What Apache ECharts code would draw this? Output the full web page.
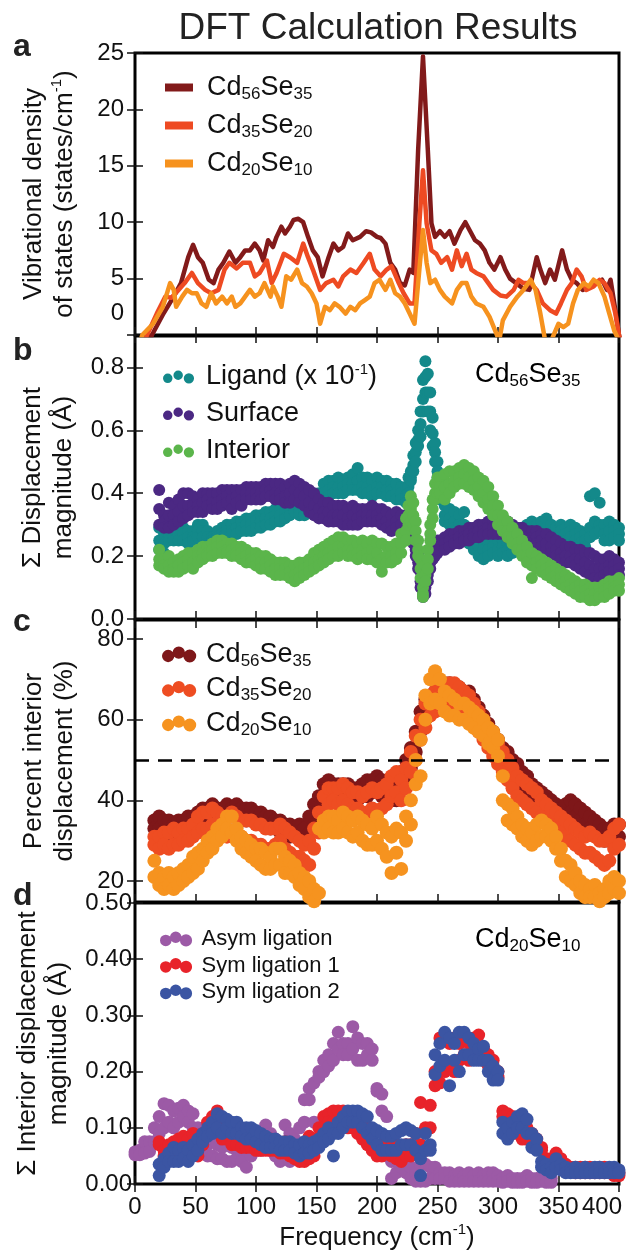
<!DOCTYPE html>
<html>
<head>
<meta charset="utf-8">
<title>DFT Calculation Results</title>
<script src="https://cdn.jsdelivr.net/npm/echarts@6/dist/echarts.min.js"></script>
<style>
    html, body { margin: 0; padding: 0; background: #fff; }
    #main { width: 627px; height: 1253px; }
</style>
</head>
<body>
<div id="main"></div>
<script>
// ---------- panel a : vibrational density of states (lines) ----------
var freq56 = [8,14,23,32,38,44,48,52,56,61,65,69,73,78,83,87,91,95,99,103,106,110,114,117,121,124,128,131,135,139,143,147,151,155,160,164,168,172,176,180,186,191,195,200,203,207,211,215,219,223,227,230,234,238,242,245,248,252,256,260,264,269,273,277,281,285,289,293,297,302,306,310,315,321,326,332,335,339,343,347,353,357,361,365,370,376,382,386,390,393,397,400,403];
var vdos56 = [-1.5,0,1.8,3.4,4.6,6.9,8.0,6.9,6.4,4.9,4.6,5.8,6.4,7.4,6.4,6.9,7.5,7.5,8.1,7.5,6.6,8.4,7.8,8.7,9.6,9.0,9.6,10.2,10.3,10.0,8.7,7.5,6.9,5.2,6.9,8.1,7.5,7.8,9.0,8.4,8.7,9.2,9.1,8.7,8.6,8.1,6.4,5.8,4.6,4.4,5.8,5.5,16.4,24.7,16.4,9.9,8.7,9.2,8.7,9.2,8.1,9.3,10.0,9.2,8.4,8.1,7.5,6.4,5.8,6.9,5.8,5.0,4.6,4.1,4.0,6.9,5.8,4.6,5.8,4.9,7.5,5.8,4.9,4.6,4.0,4.3,4.6,4.9,4.0,4.9,2.2,0,-1.5];

var freq35 = [4,10,18,25,30,36,41,47,52,58,63,69,74,78,84,89,95,99,103,109,113,117,123,128,134,139,143,147,153,158,164,168,172,178,183,189,194,198,203,208,212,218,222,227,231,235,238,241,245,249,253,258,262,266,270,274,278,282,288,292,296,302,307,313,317,321,327,332,337,343,348,352,357,361,365,369,373,379,384,388,393,397,400,403];
var vdos35 = [-1.5,0,1.9,3.4,3.3,4.0,4.6,5.5,4.6,4.0,3.7,4.0,5.8,6.4,5.9,6.4,6.4,5.2,5.5,6.6,4.6,5.5,7.2,6.9,6.4,8.1,6.9,5.8,4.0,4.6,4.9,4.3,5.2,5.8,5.5,6.4,7.2,5.8,5.2,5.8,6.1,4.6,3.7,2.8,2.8,9.9,14.6,9.9,7.5,7.2,6.4,6.9,5.8,7.5,6.1,7.2,5.8,5.5,5.2,4.6,4.0,3.5,3.4,4.0,4.9,4.6,4.6,4.0,2.8,2.2,1.9,2.8,4.0,4.6,5.8,5.2,4.0,4.3,4.9,4.6,3.7,1.9,0,-1.5];

var freq20 = [2,6,15,23,29,32,34,39,43,47,51,55,59,63,67,72,76,80,83,87,91,95,99,103,107,112,114,118,121,125,129,134,138,142,146,150,153,157,161,165,169,174,178,182,186,190,194,198,202,207,211,215,219,223,227,231,235,238,241,244,248,252,256,262,266,270,274,278,282,288,293,298,301,304,310,316,321,327,331,335,339,344,350,354,358,362,366,371,375,379,383,388,392,396,400];
var vdos20 = [-1.5,0,1.0,2.5,4.6,4.0,2.5,3.4,4.0,3.7,3.7,2.8,2.5,3.7,2.8,3.4,2.8,3.4,2.5,2.8,3.4,4.0,3.4,3.7,4.6,3.4,4.3,3.4,2.5,5.2,4.9,5.8,4.6,4.3,3.7,2.8,1.0,2.5,2.2,2.8,2.5,1.9,2.5,2.2,2.8,3.1,3.4,4.6,4.9,4.0,4.9,3.7,3.4,2.8,1.9,1.0,5.8,9.3,6.4,4.6,4.9,4.0,3.4,2.8,4.0,4.6,4.6,3.4,2.8,2.5,1.6,0.3,-0.5,1.3,2.5,3.4,4.0,4.9,4.0,1.9,-0.5,-0.5,1.0,0.7,1.0,2.8,4.0,4.6,4.3,4.9,4.6,3.4,1.9,0.4,-0.5];

// ---------- panel b : displacement magnitude, Cd56Se35 (upper / middle / lower part of each band) ----------
var freqB = [20,24,28,32,36,40,44,48,52,56,60,64,68,72,76,80,84,88,92,96,100,104,108,112,116,120,124,128,132,136,140,144,148,152,156,160,164,168,172,176,180,184,188,192,196,200,204,208,212,216,220,224,226,228,230,232,234,236,238,240,242,244,246,248,250,252,256,260,264,268,272,276,280,284,288,292,296,300,304,308,312,316,320,324,328,332,336,340,344,348,352,356,360,364,368,372,376,380,384,388,392,396,400];
var ligandHi = [.29,.27,.28,.28,.28,.29,.28,.28,.30,.30,.28,.26,.28,.29,.30,.30,.31,.31,.32,.32,.33,.33,.34,.34,.35,.35,.36,.37,.37,.35,.35,.36,.38,.40,.43,.44,.44,.45,.44,.45,.46,.48,.45,.45,.44,.45,.44,.44,.43,.43,.42,.42,
    .45,.47,.52,.56,.60,.66,.76,.82,.78,.72,.64,.56,.50,.45,
    .36,.35,.34,.33,.34,.29,.27,.26,.25,.25,.26,.25,.25,.24,.26,.28,.29,.30,.31,.30,.31,.32,.30,.29,.30,.29,.30,.29,.28,.27,.39,.40,.37,.30,.31,.30,.29];
var ligandMid = [.25,.24,.26,.26,.27,.27,.26,.26,.28,.28,.26,.25,.27,.27,.28,.28,.29,.29,.30,.30,.31,.31,.32,.32,.33,.33,.34,.35,.35,.34,.34,.35,.36,.38,.40,.41,.42,.42,.42,.43,.43,.44,.42,.42,.41,.42,.42,.41,.41,.40,.40,.39,
    .42,.45,.49,.53,.57,.62,.70,.77,.72,.66,.59,.53,.47,.41,
    .33,.32,.31,.30,.30,.26,.24,.23,.22,.22,.23,.22,.23,.22,.23,.26,.27,.28,.28,.28,.28,.29,.27,.26,.28,.27,.28,.27,.26,.25,.29,.31,.30,.27,.28,.28,.27];
var ligandLo = [.22,.21,.25,.25,.25,.25,.24,.25,.26,.26,.24,.24,.26,.26,.27,.27,.27,.28,.28,.28,.29,.29,.30,.30,.31,.31,.32,.33,.34,.33,.33,.34,.35,.36,.38,.39,.40,.40,.40,.41,.41,.41,.40,.40,.39,.40,.40,.39,.39,.38,.38,.37,
    .40,.44,.47,.50,.55,.58,.66,.72,.66,.60,.55,.50,.45,.38,
    .31,.30,.29,.28,.27,.24,.22,.20,.19,.20,.21,.20,.21,.20,.21,.24,.25,.26,.26,.27,.26,.27,.25,.24,.26,.25,.26,.25,.24,.23,.26,.27,.28,.25,.25,.26,.25];
var surfaceHi = [.41,.33,.37,.36,.38,.40,.40,.39,.38,.40,.40,.40,.40,.41,.41,.41,.41,.41,.42,.42,.42,.42,.43,.43,.43,.43,.42,.43,.44,.43,.42,.41,.40,.38,.37,.37,.36,.36,.36,.35,.36,.35,.35,.35,.36,.35,.35,.34,.33,.34,.33,.33,
    .32,.31,.29,.25,.21,.15,.10,.13,.17,.21,.23,.24,.25,.25,
    .26,.27,.27,.28,.28,.29,.29,.30,.30,.31,.31,.31,.31,.31,.30,.29,.29,.28,.28,.28,.27,.27,.26,.25,.24,.23,.23,.22,.22,.21,.21,.20,.19,.19,.20,.19,.18];
var surfaceMid = [.35,.31,.33,.33,.34,.36,.36,.36,.36,.37,.38,.37,.37,.38,.39,.38,.39,.38,.40,.40,.40,.40,.41,.41,.40,.40,.39,.40,.41,.40,.39,.37,.36,.35,.34,.34,.33,.33,.33,.32,.33,.32,.33,.33,.33,.33,.32,.31,.30,.31,.30,.30,
    .29,.28,.26,.22,.18,.12,.08,.10,.14,.18,.21,.22,.23,.23,
    .24,.25,.25,.26,.26,.27,.27,.28,.28,.29,.29,.29,.29,.28,.28,.27,.27,.26,.26,.26,.25,.24,.23,.22,.21,.20,.20,.19,.19,.18,.17,.16,.16,.16,.17,.17,.16];
var surfaceLo = [.30,.29,.29,.30,.31,.32,.33,.34,.34,.34,.36,.35,.35,.36,.37,.35,.37,.36,.38,.38,.38,.38,.39,.39,.38,.38,.37,.37,.38,.37,.36,.34,.33,.32,.32,.31,.31,.31,.30,.30,.30,.30,.31,.31,.31,.31,.30,.29,.28,.29,.28,.28,
    .27,.26,.24,.20,.16,.10,.07,.08,.12,.16,.19,.20,.21,.22,
    .22,.23,.24,.24,.25,.25,.26,.26,.27,.27,.27,.27,.27,.26,.26,.26,.25,.24,.24,.24,.23,.22,.21,.20,.19,.18,.18,.17,.16,.15,.14,.13,.13,.14,.15,.15,.14];
var interiorHi = [.22,.19,.20,.18,.19,.20,.21,.21,.22,.23,.23,.24,.25,.25,.24,.24,.23,.23,.22,.21,.21,.20,.20,.19,.18,.18,.18,.17,.17,.18,.18,.19,.21,.22,.23,.24,.25,.26,.26,.25,.25,.24,.25,.24,.25,.24,.24,.23,.23,.24,.27,.32,
    .36,.39,.37,.31,.25,.19,.10,.17,.22,.30,.38,.43,.45,.45,
    .46,.47,.47,.48,.49,.48,.47,.45,.44,.42,.39,.36,.33,.31,.29,.27,.25,.23,.21,.20,.19,.18,.17,.16,.15,.14,.13,.12,.11,.11,.10,.10,.10,.11,.12,.12,.13];
var interiorMid = [.19,.17,.17,.16,.17,.18,.19,.18,.20,.21,.21,.22,.23,.23,.22,.22,.21,.21,.20,.19,.19,.18,.18,.17,.16,.16,.16,.15,.14,.15,.16,.17,.18,.19,.20,.21,.22,.23,.23,.22,.22,.21,.22,.21,.22,.21,.19,.20,.20,.21,.24,.28,
    .33,.35,.33,.28,.22,.16,.08,.14,.19,.27,.35,.40,.42,.42,
    .42,.43,.44,.45,.46,.45,.44,.42,.40,.38,.36,.33,.30,.28,.26,.24,.22,.20,.17,.18,.17,.16,.15,.14,.13,.12,.11,.10,.09,.09,.08,.08,.08,.09,.10,.10,.11];
var interiorLo = [.17,.16,.15,.15,.15,.16,.17,.16,.18,.19,.20,.20,.21,.21,.21,.20,.20,.19,.18,.18,.17,.16,.16,.15,.14,.14,.14,.13,.12,.13,.14,.15,.16,.17,.18,.19,.20,.20,.21,.20,.20,.19,.20,.19,.19,.18,.15,.18,.18,.19,.21,.25,
    .30,.31,.30,.25,.20,.13,.07,.12,.16,.25,.32,.38,.40,.40,
    .38,.40,.42,.43,.43,.42,.41,.39,.37,.35,.33,.30,.28,.26,.24,.22,.20,.18,.13,.16,.15,.14,.13,.12,.11,.10,.09,.08,.07,.07,.06,.06,.07,.07,.08,.09,.09];

// ---------- panel c : percent interior displacement ----------
var freqC = [16,20,24,28,32,36,40,44,48,52,56,60,64,68,72,76,80,84,88,92,96,100,104,108,112,116,120,124,128,132,136,140,144,148,152,156,160,164,168,172,176,180,184,188,192,196,200,204,208,212,216,220,224,228,232,236,240,244,248,252,256,260,264,268,272,276,280,284,288,292,296,300,304,308,312,316,320,324,328,332,336,340,344,348,352,356,360,364,368,372,376,380,384,388,392,396,400];
var pct56Hi = [35,36,35,35,34,35,35,36,36,37,38,38,39,38,38,39,38,39,38,38,38,37,37,36,36,35,35,34,34,33,34,33,36,39,41,44,45,44,44,44,44,43,43,44,45,45,46,45,44,43,44,47,50,53,57,62,65,66,67,68,69,69,68,68,67,67,65,63,61,59,57,55,53,52,50,49,47,46,44,43,42,41,40,39,38,39,40,39,38,37,36,35,34,33,33,34,34];
var pct56Lo = [33,33,32,32,31,32,32,33,33,34,35,35,36,35,35,36,36,36,35,35,35,35,34,34,33,33,32,32,31,31,31,30,32,34,37,40,41,41,41,40,41,40,40,41,41,42,42,41,41,40,40,43,45,48,52,57,60,62,63,64,65,65,65,64,64,63,61,60,58,56,54,52,50,49,47,46,44,43,41,40,39,38,37,36,36,36,37,36,35,34,33,32,31,30,30,31,31];
var pct35Hi = [31,31,32,32,33,32,33,33,34,36,37,37,38,37,36,36,37,36,35,35,35,34,34,33,33,33,34,33,32,31,30,29,30,33,37,41,43,43,43,44,43,42,42,41,42,43,42,43,44,46,47,45,48,52,56,60,64,66,67,68,68,69,69,68,67,66,64,62,60,58,56,54,52,50,48,46,45,44,43,42,40,39,38,37,36,35,34,33,32,31,32,31,30,30,31,33,34];
var pct35Lo = [29,28,29,28,29,29,30,30,31,32,33,33,34,33,32,31,32,31,31,30,30,29,29,28,28,29,30,28,27,26,26,25,24,28,32,37,39,40,39,40,39,38,38,37,37,38,37,38,39,41,42,40,43,47,50,55,58,61,62,63,63,64,64,64,62,61,59,57,55,53,51,49,47,45,43,41,40,39,38,37,36,35,34,33,32,31,30,29,28,27,27,26,25,24,25,28,29];
var pct20Hi = [25,22,21,22,21,22,23,24,26,27,28,30,31,33,34,36,36,33,31,30,29,28,28,27,26,28,28,26,25,24,22,21,20,18,33,35,36,36,35,37,36,35,36,35,34,33,36,34,32,31,33,32,36,40,50,55,66,70,72,70,67,66,65,64,64,63,62,61,60,58,57,55,46,39,38,36,34,33,32,34,35,34,33,31,28,25,24,22,20,19,18,19,17,18,20,21,20];
var pct20Lo = [21,19,18,19,18,19,20,21,22,23,25,27,28,30,31,33,32,30,28,27,26,25,24,23,23,24,24,22,22,21,19,18,16,15,17,32,33,32,32,33,32,31,32,30,29,29,30,28,26,22,27,23,30,34,44,46,60,64,65,64,62,61,61,60,60,59,58,57,56,54,53,51,40,35,34,33,31,30,29,30,31,31,30,28,25,21,20,19,17,16,16,16,15,16,17,18,17];
var halfLine = 50;

// ---------- panel d : interior displacement, Cd20Se10 ----------
var freqD = [0,4,8,12,16,20,24,28,32,36,40,44,48,52,56,60,64,68,72,76,80,84,88,92,96,100,104,108,112,116,120,124,128,132,136,140,144,148,152,156,160,164,168,172,176,180,184,188,192,196,200,204,208,212,216,220,224,228,232,236,240,244,248,252,256,260,264,268,272,276,280,284,288,292,296,300,304,308,312,316,320,324,328,332,336,340,344,348,352,356,360,364,368,372,376,380,384,388,392,396,400];
var asymHi = [.057,.06,.075,.075,.10,.12,.143,.14,.13,.135,.14,.13,.125,.10,.08,.07,.075,.07,.065,.07,.065,.06,.055,.06,.07,.08,.09,.105,.09,.08,.07,.105,.09,.08,.10,.15,.17,.18,.20,.22,.23,.25,.27,.25,.25,.28,.26,.25,.25,.24,.17,.16,.12,.04,.05,.05,.04,.03,.02,.035,.035,.03,.03,.02,.02,.02,.015,.02,.015,.02,.015,.02,.015,.02,.02,.015,.01,.015,.01,.01,.01,.015,.01,.01,.012,.01,.01,
    null,null,null,null,null,null,null,null,null,null,null,null,null,null];
var asymLo = [.052,.052,.055,.058,.075,.09,.10,.11,.10,.11,.12,.11,.10,.09,.06,.05,.05,.045,.045,.04,.04,.045,.04,.03,.05,.06,.06,.07,.06,.05,.04,.05,.04,.045,.06,.11,.15,.11,.19,.20,.21,.22,.24,.23,.23,.24,.22,.22,.23,.22,.165,.13,.05,.01,.02,.03,.02,.01,.005,.005,.005,.01,.01,.01,.01,.005,.005,.005,.005,.005,.005,.005,.005,.005,.005,.005,.003,.005,.003,.003,.003,.005,.003,.003,.005,.003,.003,
    null,null,null,null,null,null,null,null,null,null,null,null,null,null];
var sym1Hi = [null,null,null,null,null,
    .075,.06,.07,.075,.08,.085,.08,.09,.06,.09,.11,.12,.13,.11,.10,.09,.09,.085,.08,.08,.08,.075,.075,.08,.075,.07,.075,.065,.06,.055,.06,.085,.08,.10,.12,.125,.13,.13,.13,.12,.12,.11,.10,.10,.09,.06,.07,.08,.08,.07,.06,.07,.07,.09,.145,.10,.14,.20,.26,.26,.25,.26,.25,.26,.25,.26,.265,.24,.23,.22,.20,.13,.125,.12,.11,.10,.10,.09,.08,.065,.045,.045,.055,.045,.035,.03,.03,.03,.03,.03,.025,.03,.03,.025,.02,.02];
var sym1Lo = [null,null,null,null,null,
    .07,.05,.05,.05,.06,.065,.06,.06,.05,.07,.09,.10,.10,.08,.08,.07,.07,.065,.065,.065,.06,.06,.06,.06,.06,.055,.055,.05,.045,.04,.04,.045,.05,.08,.10,.11,.11,.10,.11,.10,.10,.09,.08,.07,.06,.05,.05,.06,.05,.045,.04,.05,.05,.06,.07,.06,.10,.175,.18,.20,.21,.20,.22,.23,.22,.23,.23,.22,.21,.20,.19,.12,.10,.09,.09,.08,.08,.075,.07,.06,.04,.04,.045,.03,.03,.025,.02,.02,.02,.02,.02,.02,.02,.02,.015,.015];
var sym2Hi = [null,null,null,null,null,
    .035,.045,.055,.065,.06,.065,.06,.07,.08,.09,.10,.11,.125,.12,.115,.11,.11,.10,.10,.10,.095,.09,.085,.08,.08,.075,.075,.075,.07,.07,.075,.07,.075,.08,.09,.10,.09,.11,.12,.13,.13,.13,.125,.12,.10,.095,.09,.085,.085,.09,.095,.10,.095,.09,.045,.09,.07,.23,.25,.27,.26,.25,.27,.27,.26,.25,.24,.245,.22,.21,.20,.11,.10,.11,.12,.125,.115,.09,.08,.04,.035,.03,.045,.035,.03,.025,.03,.025,.03,.025,.03,.03,.025,.03,.03,.025];
var sym2Lo = [null,null,null,null,null,
    .015,.03,.04,.04,.04,.045,.04,.05,.06,.075,.085,.09,.10,.09,.10,.09,.09,.085,.08,.08,.075,.07,.065,.065,.065,.06,.06,.06,.055,.05,.055,.055,.06,.065,.075,.08,.05,.09,.10,.11,.11,.11,.10,.09,.08,.07,.06,.06,.06,.06,.07,.07,.07,.06,.015,.06,.06,.195,.21,.22,.175,.22,.20,.23,.23,.22,.22,.22,.20,.185,.185,.09,.08,.09,.10,.10,.09,.065,.06,.03,.025,.02,.03,.025,.02,.02,.02,.02,.02,.02,.02,.02,.02,.02,.02,.02];

// ---------- tick labels ----------
var freqTicks = [0, 50, 100, 150, 200, 250, 300, 350, 400];
var ticksA = [0, 5, 10, 15, 20, 25];
var ticksB = [0, 0.2, 0.4, 0.6, 0.8];
var ticksC = [20, 40, 60, 80];
var ticksD = [0, 0.1, 0.2, 0.3, 0.4, 0.5];

var FONT = 'Liberation Sans';
var INK = '#111';

// legend / annotation labels (rich text for sub- and superscripts)
var labelText = {
    vdos56: '{g|}{n|Cd}{s|56}{n|Se}{s|35}',
    vdos35: '{g|}{n|Cd}{s|35}{n|Se}{s|20}',
    vdos20: '{g|}{n|Cd}{s|20}{n|Se}{s|10}',
    ligand: '{g|}{n|Ligand (x 10}{sup|-1}{n|)}',
    surface: '{g|}{n|Surface}',
    interior: '{g|}{n|Interior}',
    pct56: '{g|}{n|Cd}{s|56}{n|Se}{s|35}',
    pct35: '{g|}{n|Cd}{s|35}{n|Se}{s|20}',
    pct20: '{g|}{n|Cd}{s|20}{n|Se}{s|10}',
    asym: '{g|}{m|Asym ligation}',
    sym1: '{g|}{m|Sym ligation 1}',
    sym2: '{g|}{m|Sym ligation 2}'
};

function richSet(gap) {
    return {
        g: {width: gap},
        n: {fontSize: 27, lineHeight: 30, fontFamily: FONT, color: INK},
        m: {fontSize: 22, lineHeight: 24, fontFamily: FONT, color: INK},
        s: {fontSize: 17, lineHeight: 18, verticalAlign: 'bottom', fontFamily: FONT, color: INK},
        sup: {fontSize: 15, lineHeight: 16, verticalAlign: 'top', fontFamily: FONT, color: INK}
    };
}

var nameRich = {
    n: {fontSize: 26, lineHeight: 31, fontFamily: FONT, color: INK},
    sup: {fontSize: 15, lineHeight: 16, verticalAlign: 'top', fontFamily: FONT, color: INK}
};

// three dots like the matplotlib scatter legend
var dotsSmall = 'path://M0.5,9a4.6,4.6 0 1,0 9.2,0a4.6,4.6 0 1,0 -9.2,0ZM10.6,6a4.6,4.6 0 1,0 9.2,0a4.6,4.6 0 1,0 -9.2,0ZM20.6,9a5,5 0 1,0 10,0a5,5 0 1,0 -10,0Z';
var dotsBig = 'path://M0,9.5a5.5,5.5 0 1,0 11,0a5.5,5.5 0 1,0 -11,0ZM9.5,6.5a5.5,5.5 0 1,0 11,0a5.5,5.5 0 1,0 -11,0ZM19,9.5a5.8,5.8 0 1,0 11.6,0a5.8,5.8 0 1,0 -11.6,0Z';

function linePts(xs, ys) {
    return xs.map(function (x, i) { return [x, ys[i]]; });
}

// every row (upper, middle, lower) becomes one dot per frequency
function cloudPts(xs, rows) {
    var out = [];
    for (var i = 0; i < xs.length; i++) {
        rows.forEach(function (r) {
            if (r[i] != null) out.push([xs[i], r[i]]);
        });
    }
    return out;
}

var tickStyle = {color: INK, width: 1.5};

function xAxes(gi, withLabels) {
    var bottom = {
        type: 'value', gridIndex: gi, position: 'bottom', min: 0, max: 400,
        axisLine: {show: false}, splitLine: {show: false},
        axisTick: {inside: true, length: 8, lineStyle: tickStyle, customValues: freqTicks},
        axisLabel: {
            show: withLabels, customValues: freqTicks, fontSize: 24, fontFamily: FONT, color: INK, margin: 11,
            // last label sits left of its tick in the original
            formatter: function (v) { return v === 400 ? '{r|400}' : String(v); },
            rich: {r: {fontSize: 24, fontFamily: FONT, color: INK, padding: [0, 34, 0, 0]}}
        }
    };
    if (withLabels) {
        bottom.name = '{n|Frequency (cm}{sup|-1}{n|)}';
        bottom.nameLocation = 'middle';
        bottom.nameGap = 38;
        bottom.nameTextStyle = {fontSize: 26, fontFamily: FONT, color: INK, lineHeight: 31, rich: nameRich};
    }
    var top = {
        type: 'value', gridIndex: gi, position: 'top', min: 0, max: 400,
        axisLine: {show: false}, splitLine: {show: false},
        axisTick: {inside: true, length: 8, lineStyle: tickStyle, customValues: freqTicks},
        axisLabel: {show: false}
    };
    return [bottom, top];
}

function yAxes(gi, min, max, ticks, fmt, name, margin, rich) {
    var left = {
        type: 'value', gridIndex: gi, position: 'left', min: min, max: max,
        axisLine: {show: false}, splitLine: {show: false},
        axisTick: {inside: true, length: 8, lineStyle: tickStyle, customValues: ticks},
        axisLabel: {customValues: ticks, formatter: fmt, fontSize: 24, fontFamily: FONT, color: INK, margin: margin, rich: rich},
        name: name, nameLocation: 'middle', nameGap: 55,
        nameTextStyle: {fontSize: 26, fontFamily: FONT, color: INK, lineHeight: 31, rich: nameRich}
    };
    var right = {
        type: 'value', gridIndex: gi, position: 'right', min: min, max: max,
        axisLine: {show: false}, splitLine: {show: false},
        axisTick: {inside: true, length: 8, lineStyle: tickStyle, customValues: ticks},
        axisLabel: {show: false}
    };
    return [left, right];
}

function gridBox(top, height) {
    return {left: 135, width: 484, top: top, height: height, show: true,
        borderColor: '#000', borderWidth: 3, backgroundColor: 'transparent', containLabel: false, outerBoundsMode: 'none'};
}

function lineSeries(name, xs, ys, color) {
    return {
        name: name, type: 'line', xAxisIndex: 0, yAxisIndex: 0, data: linePts(xs, ys),
        showSymbol: false, symbol: 'none', clip: true, color: color,
        lineStyle: {color: color, width: 4.5, join: 'round', cap: 'round'}
    };
}

function dotSeries(name, panel, xs, rows, color, size) {
    return {
        name: name, type: 'scatter', xAxisIndex: panel * 2, yAxisIndex: panel * 2,
        data: cloudPts(xs, rows), symbol: 'circle', symbolSize: size, clip: true,
        color: color, itemStyle: {color: color, opacity: 1}
    };
}

function legendBox(left, top, gap, textGap, names, icon, w, h) {
    return {
        orient: 'vertical', left: left, top: top, padding: 0, itemGap: gap,
        itemWidth: w, itemHeight: h, selectedMode: false,
        data: names.map(function (n) { return {name: n, icon: icon}; }),
        formatter: function (n) { return labelText[n]; },
        textStyle: {fontFamily: FONT, color: INK, rich: richSet(textGap)}
    };
}

var myChart = echarts.init(document.getElementById('main'), null, {renderer: 'canvas'});

var c56 = '#7e1719', c35 = '#ee4d22', c20 = '#f6931f';

var seriesC20 = dotSeries('pct20', 2, freqC, [pct20Hi, pct20Lo], c20, 14);
seriesC20.markLine = {
    silent: true, symbol: ['none', 'none'], label: {show: false},
    lineStyle: {color: '#000', type: [14, 9], width: 2.5},
    data: [{yAxis: halfLine}]
};

var option = {
    animation: false,
    backgroundColor: '#fff',
    grid: [gridBox(53, 282), gridBox(336, 283), gridBox(620, 282), gridBox(903, 281)],
    xAxis: [].concat(xAxes(0, false), xAxes(1, false), xAxes(2, false), xAxes(3, true)),
    yAxis: [].concat(
        yAxes(0, 0, 25, ticksA, function (v) { return v === 0 ? '{z|0}' : String(v); },
            '{n|Vibrational density}\n{n|of states (states/cm}{sup|-1}{n|)}', 11,
            {z: {fontSize: 24, fontFamily: FONT, color: INK, padding: [0, 0, 44, 0]}}),
        yAxes(1, 0, 0.9, ticksB, function (v) { return v.toFixed(1); },
            '{n|\u03a3 Displacement}\n{n|magnitude (\u00c5)}', 11),
        yAxes(2, 14.8, 84.7, ticksC, function (v) { return String(v); },
            '{n|Percent interior}\n{n|displacement (%)}', 11),
        yAxes(3, 0, 0.5, ticksD, function (v) { return v.toFixed(2); },
            '{n|\u03a3 Interior displacement}\n{n|magnitude (\u00c5)}', 3)
    ),
    legend: [
        legendBox(165, 74, 9.5, 9, ['vdos56', 'vdos35', 'vdos20'], 'rect', 28, 8),
        legendBox(163, 362, 10, 6, ['ligand', 'surface', 'interior'], dotsSmall, 33, 13),
        legendBox(162, 641, 6, 4, ['pct56', 'pct35', 'pct20'], dotsBig, 36, 16),
        legendBox(160, 928, 4.5, 2, ['asym', 'sym1', 'sym2'], dotsBig, 37, 15)
    ],
    series: [
        lineSeries('vdos56', freq56, vdos56, '#821a1a'),
        lineSeries('vdos35', freq35, vdos35, '#ee4a22'),
        lineSeries('vdos20', freq20, vdos20, '#f6921e'),

        dotSeries('ligand', 1, freqB, [ligandHi, ligandMid, ligandLo], '#13898a', 12),
        dotSeries('surface', 1, freqB, [surfaceHi, surfaceMid, surfaceLo], '#4b2883', 12),
        dotSeries('interior', 1, freqB, [interiorHi, interiorMid, interiorLo], '#5bb54b', 12),

        dotSeries('pct56', 2, freqC, [pct56Hi, pct56Lo], c56, 14),
        dotSeries('pct35', 2, freqC, [pct35Hi, pct35Lo], c35, 14),
        seriesC20,

        dotSeries('asym', 3, freqD, [asymHi, asymLo], '#9c5aa6', 13),
        dotSeries('sym1', 3, freqD, [sym1Hi, sym1Lo], '#e8232a', 13),
        dotSeries('sym2', 3, freqD, [sym2Hi, sym2Lo], '#3b55a3', 13)
    ],
    graphic: [
        {type: 'text', z: 100, style: {text: 'DFT Calculation Results', x: 378, y: 29, fill: '#222',
            font: '37px "Liberation Sans"', align: 'center', verticalAlign: 'middle', textAlign: 'center', textVerticalAlign: 'middle'}},
        {type: 'text', z: 100, style: {text: 'a', x: 13, y: 47, fill: '#222', font: 'bold 32px "Liberation Sans"', verticalAlign: 'middle', textVerticalAlign: 'middle'}},
        {type: 'text', z: 100, style: {text: 'b', x: 13, y: 351, fill: '#222', font: 'bold 32px "Liberation Sans"', verticalAlign: 'middle', textVerticalAlign: 'middle'}},
        {type: 'text', z: 100, style: {text: 'c', x: 13, y: 622, fill: '#222', font: 'bold 32px "Liberation Sans"', verticalAlign: 'middle', textVerticalAlign: 'middle'}},
        {type: 'text', z: 100, style: {text: 'd', x: 13, y: 896, fill: '#222', font: 'bold 32px "Liberation Sans"', verticalAlign: 'middle', textVerticalAlign: 'middle'}},
        {type: 'text', z: 100, style: {text: '{n|Cd}{s|56}{n|Se}{s|35}', rich: richSet(0), x: 475, y: 375,
            verticalAlign: 'middle', textVerticalAlign: 'middle'}},
        {type: 'text', z: 100, style: {text: '{n|Cd}{s|20}{n|Se}{s|10}', rich: richSet(0), x: 475, y: 940,
            verticalAlign: 'middle', textVerticalAlign: 'middle'}}
    ]
};

myChart.setOption(option);
</script>
</body>
</html>
